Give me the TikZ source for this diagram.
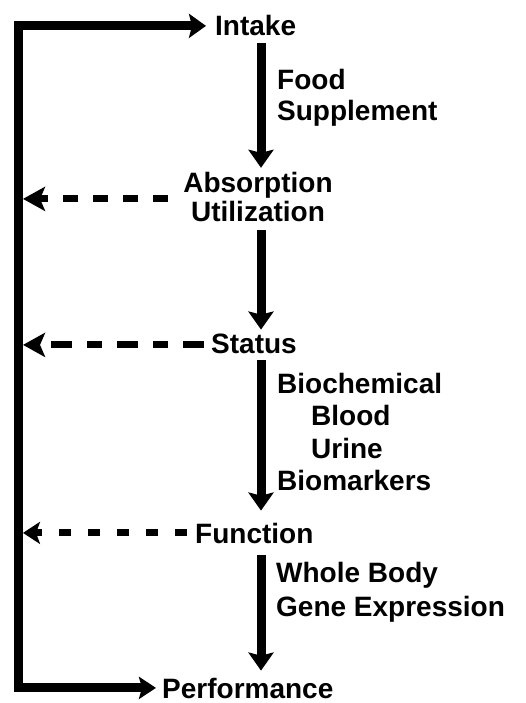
\documentclass[tikz,border=0pt]{standalone}
\usepackage{fontspec}
\setmainfont{Liberation Sans}
\usetikzlibrary{arrows.meta,calc}
\begin{document}
\begin{tikzpicture}[x=1pt,y=-1pt,
  lbl/.style={font=\bfseries\fontsize{28}{30}\selectfont, inner sep=0pt,
    text height=20.2pt, text depth=0pt, anchor=base west},
  lblc/.style={lbl, anchor=base},
  flow/.style={line width=9pt, -{Stealth[length=18pt,width=25pt,inset=3pt]}},
  loopline/.style={line width=9pt, line join=miter,
    {Stealth[length=17pt,width=24pt,inset=3pt]}-{Stealth[length=17pt,width=22pt,inset=3pt]}},
  fb/.style={line width=7pt, -{Stealth[length=22pt,width=24pt,inset=5pt]}}
]
\fill[white] (0,0) rectangle (525,703);
\useasboundingbox (0,0) rectangle (525,703);

% labels
\node[lbl]  (intake) at (215,36)  {Intake};
\node[lbl]  (food)   at (277,90)  {Food};
\node[lbl]  (supp)   at (277,121) {Supplement};
\node[lblc] (abs)    at (258,193) {Absorption};
\node[lblc] (util)   at (258,222) {Utilization};
\node[lbl]  (status) at (211,353) {Status};
\node[lbl]  (bio)    at (277,393) {Biochemical};
\node[lbl]  (blood)  at (311,425) {Blood};
\node[lbl]  (urine)  at (311,458) {Urine};
\node[lbl]  (bmk)    at (277,490) {Biomarkers};
\node[lbl]  (func)   at (195,543) {Function};
\node[lbl]  (whole)  at (276,582) {Whole Body};
\node[lbl]  (gene)   at (276,616) {Gene Expression};
\node[lbl]  (perf)   at (162,698) {Performance};

\coordinate (col) at (261,0);
\coordinate (L) at (18.5,0);

% main downward flow
\draw[flow, shorten <=7pt, shorten >=4.8pt] (intake.south -| col) -- (abs.north -| col);
\draw[flow, shorten <=8pt, shorten >=3pt]   (util.south -| col)   -- (status.north -| col);
\draw[flow, shorten <=7pt, shorten >=12pt]  (status.south -| col) -- (func.north -| col);
\draw[flow, shorten <=12pt, shorten >=7pt]  (func.south -| col)   -- (perf.north -| col);

% feedback loop
\draw[loopline] ([xshift=-9pt]intake.west) -- (intake.west -| L) -- (perf.west -| L) -- ([xshift=-6pt]perf.west);

% dashed feedback arrows
\coordinate (dA) at ($(abs.west)+(-15,16)$);
\coordinate (dS) at ($(status.west)+(-7,2)$);
\coordinate (dF) at ($(func.west)+(-8,0)$);
\draw[fb, dash pattern=on 15pt off 15pt, shorten >=4.5pt] (dA) -- (dA -| L);
\draw[fb, dash pattern=on 21pt off 15pt on 15pt off 15pt, shorten >=4.5pt] (dS) -- (dS -| L);
\draw[fb, dash pattern=on 12pt off 17pt, shorten >=4.5pt,
  -{Stealth[length=17pt,width=22pt,inset=4pt]}] (dF) -- (dF -| L);
\end{tikzpicture}
\end{document}
